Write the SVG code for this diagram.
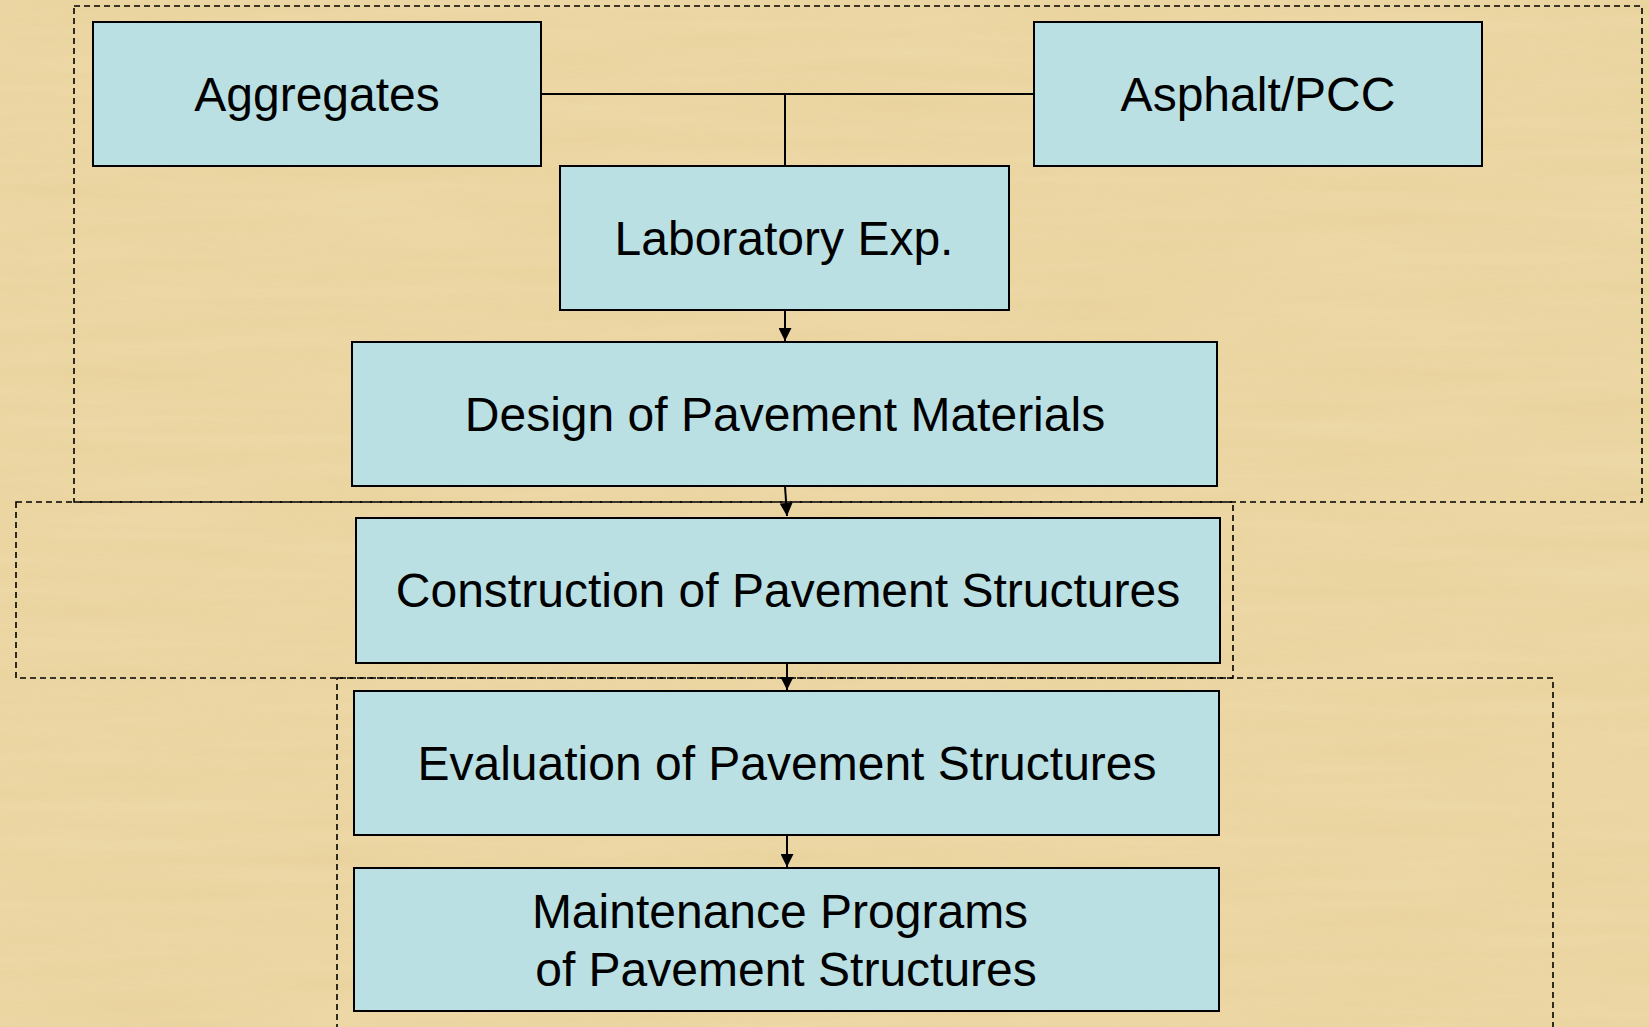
<svg xmlns="http://www.w3.org/2000/svg" width="1649" height="1027" viewBox="0 0 1649 1027">
<style>
.node rect{fill:#BAE0E3;stroke:#000;stroke-width:2}
.node text{font-family:"Liberation Sans",Arial,sans-serif;font-size:48px;fill:#000;text-anchor:middle}
.grp{fill:none;stroke:#000;stroke-width:1.6;stroke-dasharray:6 4}
.conn{fill:none;stroke:#000;stroke-width:2}
</style>
<defs>
<marker id="arr" viewBox="0 0 10 10" refX="10" refY="5" markerWidth="14" markerHeight="13" markerUnits="userSpaceOnUse" orient="auto">
<path d="M0,0 L10,5 L0,10 z" fill="#000"/>
</marker>
<filter id="paper" x="0" y="0" width="100%" height="100%">
<feTurbulence type="fractalNoise" baseFrequency="0.004 0.06" numOctaves="3" seed="4"/>
<feColorMatrix type="matrix" values="0 0 0 0 0.98  0 0 0 0 0.90  0 0 0 0 0.70  0 0 0 0.35 0"/>
</filter>
</defs>
<rect width="1649" height="1027" fill="#E9D29C"/>
<rect width="1649" height="1027" filter="url(#paper)" opacity="0.6"/>
<g id="groups">
<rect class="grp" x="74" y="6" width="1568" height="496"/>
<rect class="grp" x="16" y="502" width="1217" height="176"/>
<rect class="grp" x="337" y="678" width="1216" height="360"/>
</g>
<g id="connectors">
<path class="conn" d="M541,94 H1034"/>
<path class="conn" d="M785,94 V166"/>
<path class="conn" d="M785,310 V341" marker-end="url(#arr)"/>
<path class="conn" d="M785,486 L787,516" marker-end="url(#arr)"/>
<path class="conn" d="M787,663 V690" marker-end="url(#arr)"/>
<path class="conn" d="M787,835 V867" marker-end="url(#arr)"/>
</g>
<g id="aggregates" class="node"><rect x="93" y="22" width="448" height="144"/><text x="317" y="111">Aggregates</text></g>
<g id="asphalt" class="node"><rect x="1034" y="22" width="448" height="144"/><text x="1258" y="111">Asphalt/PCC</text></g>
<g id="lab" class="node"><rect x="560" y="166" width="449" height="144"/><text x="784" y="255">Laboratory Exp.</text></g>
<g id="design" class="node"><rect x="352" y="342" width="865" height="144"/><text x="785" y="431">Design of Pavement Materials</text></g>
<g id="construction" class="node"><rect x="356" y="518" width="864" height="145"/><text x="788" y="607">Construction of Pavement Structures</text></g>
<g id="evaluation" class="node"><rect x="354" y="691" width="865" height="144"/><text x="787" y="780">Evaluation of Pavement Structures</text></g>
<g id="maintenance" class="node"><rect x="354" y="868" width="865" height="143"/><text x="780" y="928">Maintenance Programs</text><text x="786" y="986">of Pavement Structures</text></g>
</svg>
